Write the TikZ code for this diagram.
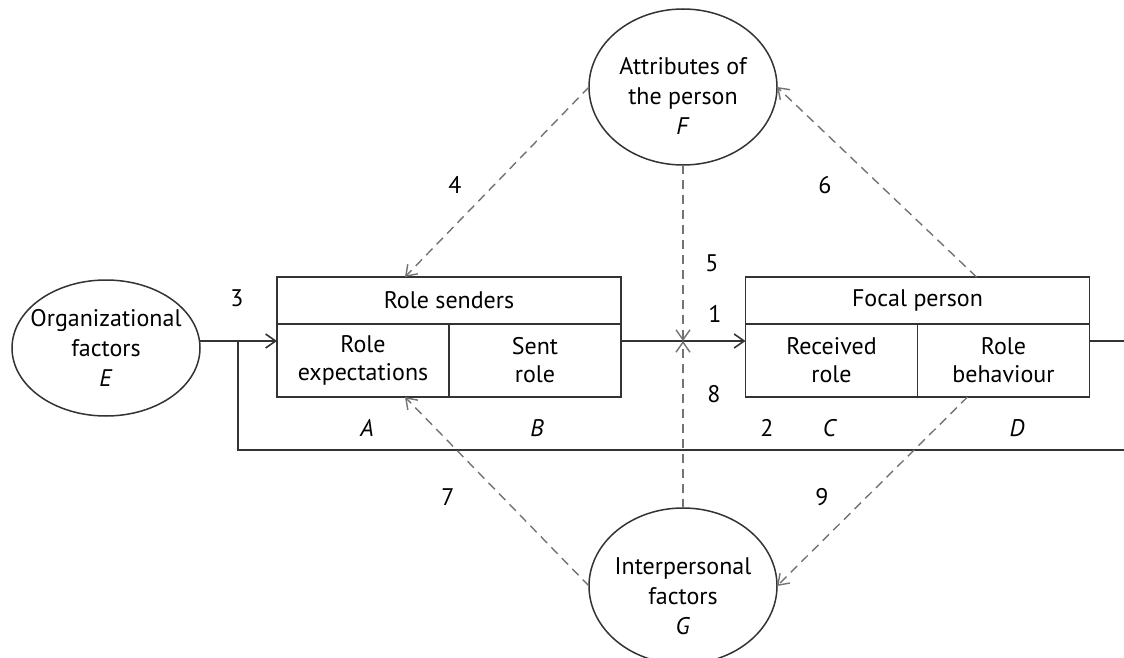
\documentclass[tikz,border=0pt]{standalone}
\usepackage{fontspec}
\setmainfont{PT Sans}
\usetikzlibrary{shapes, arrows.meta, positioning}
\definecolor{inkgray}{gray}{0.2}
\definecolor{dashgray}{gray}{0.45}
\tikzstyle{head} = [rectangle, draw=inkgray, line width=1.5pt, minimum width=344, minimum height=47,
    inner sep=0pt, outer sep=0pt, font=\fontsize{24}{28}\selectfont]
\tikzstyle{cell} = [rectangle, draw=inkgray, line width=1.5pt, minimum width=172, minimum height=73,
    align=center, inner sep=0pt, outer sep=0pt, font=\fontsize{24}{28}\selectfont]
\tikzstyle{factor} = [draw=inkgray, ellipse, line width=1.5pt, minimum width=188, minimum height=156,
    align=center, inner sep=-20pt, outer sep=0pt, font=\fontsize{24}{30}\selectfont]
\tikzstyle{num} = [inner sep=0pt, font=\fontsize{24}{28}\selectfont]
\tikzstyle{flow} = [draw=inkgray, line width=1.6pt]
\tikzstyle{line} = [draw=inkgray, line width=1.6pt, -{Straight Barb[length=10pt,width=14pt]}]
\tikzstyle{link} = [draw=dashgray, line width=1.4pt, dash pattern=on 9pt off 6pt,
    -{Straight Barb[length=10pt,width=14pt]}]

\begin{document}
\begin{tikzpicture}[x=1pt, y=-1pt]
        \useasboundingbox (0,0) rectangle (1124,658);
        % Place nodes
        \node [head] (senders) at (449,300.5) {Role senders};
        \node [cell, below right=0pt and 0pt of senders.south west] (expect) {Role\\expectations};
        \node [cell, right=0pt of expect] (sent) {Sent\\role};
        \node [head] (focal) at (917.5,300.5) {Focal person};
        \node [cell, below right=0pt and 0pt of focal.south west] (received) {Received\\role};
        \node [cell, right=0pt of received] (behave) {Role\\behaviour};
        % Factor nodes
        \node [factor, minimum height=136] (org) at (106,348) {Organizational\\factors\\\textit{E}};
        \node [factor] (attr) at (683,87) {\rule{0pt}{36pt}Attributes of\\the person\\\textit{F}};
        \node [factor] (inter) at (683,586) {\rule{0pt}{38pt}Interpersonal\\factors\\\textit{G}};
        % Letters and numbers
        \node [num] (letA) at (367,428) {\textit{A}};
        \node [num] (letB) at (537,428) {\textit{B}};
        \node [num] (letC) at (830,428) {\textit{C}};
        \node [num] (letD) at (1017,428) {\textit{D}};
        \node [num] (n1) at (715,314) {1};
        \node [num] (n2) at (767,428) {2};
        \node [num] (n3) at (237,298) {3};
        \node [num] (n4) at (455,185) {4};
        \node [num] (n5) at (712,263) {5};
        \node [num] (n6) at (825,185) {6};
        \node [num] (n7) at (448,497) {7};
        \node [num] (n8) at (714,394) {8};
        \node [num] (n9) at (822,497) {9};
        % Draw edges
        \coordinate (split) at (238,341);
        \coordinate (cross) at (683,341);
        \coordinate (feedend) at (1124,450);
        \coordinate (outend) at (1124,341);
        \path [flow] (org.east |- split) -- (split);
        \path [line] (split) -- (split -| expect.west);
        \path [flow] (split) |- (feedend);
        \path [flow] (split -| sent.east) -- (cross);
        \path [line] (cross) -- (cross -| received.west);
        \path [flow] (cross -| behave.east) -- (outend);
        % Dashed influences
        \path [link] (attr.west) -- ([xshift=128pt]senders.north west);
        \path [link] (attr.south) -- (cross);
        \path [link] ([xshift=59pt]focal.north) -- (attr.east);
        \path [link] (inter.west) -- ([xshift=128pt]expect.south west);
        \path [link] (inter.north) -- (cross);
        \path [link] ([xshift=-36pt]behave.south) -- (inter.east);
    \end{tikzpicture}
\end{document}
